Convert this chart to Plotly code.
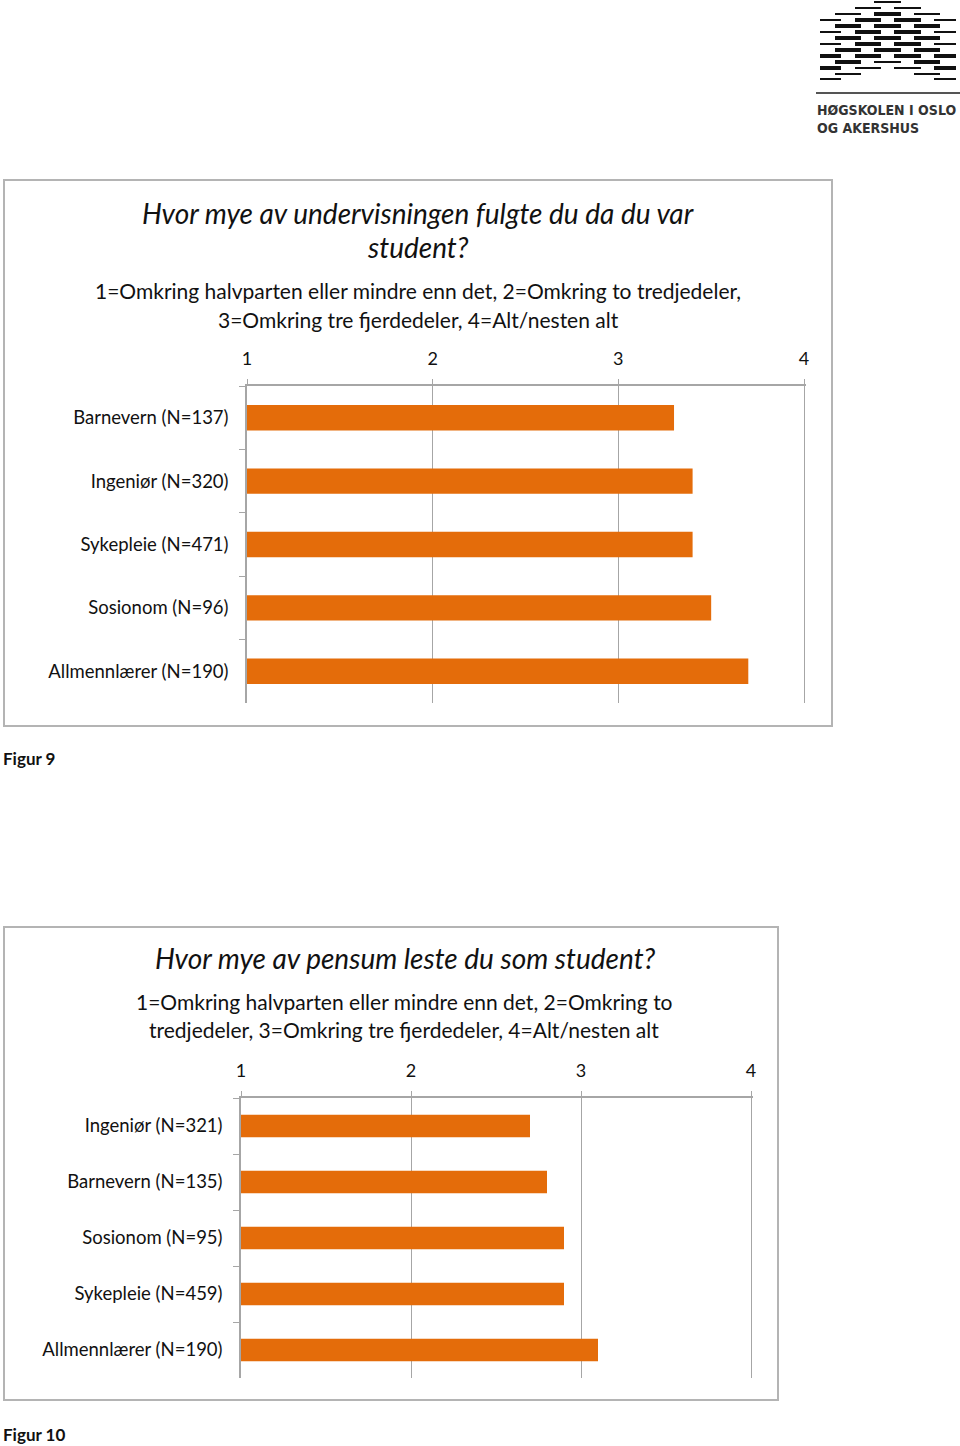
import plotly.graph_objects as go

W, H = 960, 1446

# ---------------- data ----------------
cats1 = ["Barnevern (N=137)", "Ingeniør (N=320)", "Sykepleie (N=471)",
         "Sosionom (N=96)", "Allmennlærer (N=190)"]
vals1 = [3.30, 3.40, 3.40, 3.50, 3.70]

cats2 = ["Ingeniør (N=321)", "Barnevern (N=135)", "Sosionom (N=95)",
         "Sykepleie (N=459)", "Allmennlærer (N=190)"]
vals2 = [2.70, 2.80, 2.90, 2.90, 3.10]

ticks = [1, 2, 3, 4]
tick_labels = ["1", "2", "3", "4"]

title1 = ["Hvor mye av undervisningen fulgte du da du var", "student?"]
sub1 = ["1=Omkring halvparten eller mindre enn det, 2=Omkring to tredjedeler,",
        "3=Omkring tre fjerdedeler, 4=Alt/nesten alt"]
title2 = ["Hvor mye av pensum leste du som student?"]
sub2 = ["1=Omkring halvparten eller mindre enn det, 2=Omkring to",
        "tredjedeler, 3=Omkring tre fjerdedeler, 4=Alt/nesten alt"]

ORANGE = "#E46C0A"
GRID = "#a6a6a6"
FONT = "Lato"
TXT = "#111111"


def px_x(x):
    return x / W


def px_y(y):
    return 1 - y / H


fig = go.Figure()

fig.add_trace(go.Bar(y=cats1, x=[v - 1 for v in vals1], base=1, orientation="h",
                     marker=dict(color=ORANGE, line=dict(width=0)),
                     xaxis="x", yaxis="y", showlegend=False))
fig.add_trace(go.Bar(y=cats2, x=[v - 1 for v in vals2], base=1, orientation="h",
                     marker=dict(color=ORANGE, line=dict(width=0)),
                     xaxis="x2", yaxis="y2", showlegend=False))

EXT = 0.012  # small extension so the gridline at 4 is drawn
xcommon = dict(range=[1, 4 + EXT], tickvals=ticks, ticktext=tick_labels, side="top",
               showgrid=True, gridcolor=GRID, gridwidth=1.2,
               showline=True, linecolor=GRID, linewidth=1.5,
               ticks="outside", ticklen=5, tickcolor=GRID,
               tickfont=dict(family=FONT, size=18, color=TXT),
               ticklabelstandoff=7, zeroline=False, fixedrange=True)
ycommon = dict(autorange="reversed", showline=True, linecolor=GRID, linewidth=1.5,
               ticks="outside", ticklen=6, tickcolor=GRID, tickson="boundaries",
               tickfont=dict(family=FONT, size=18.5, color=TXT),
               ticklabelstandoff=13, showgrid=False, zeroline=False, fixedrange=True)


def dom(a, b):
    # a = pixel of value 1, b = pixel of value 4
    unit = (b - a) / 3
    return [px_x(a), px_x(b + unit * EXT)]


fig.update_layout(
    width=W, height=H, margin=dict(l=0, r=0, t=0, b=0, autoexpand=False),
    paper_bgcolor="white", plot_bgcolor="white",
    bargap=0.6, showlegend=False,
    xaxis=dict(domain=dom(247, 804), anchor="y", **xcommon),
    yaxis=dict(domain=[px_y(703), px_y(386)], anchor="x", **ycommon),
    xaxis2=dict(domain=dom(241, 751), anchor="y2", **xcommon),
    yaxis2=dict(domain=[px_y(1378), px_y(1098)], anchor="x2", **ycommon),
)

shapes = []
# chart frames
for (x0, y0, x1, y1) in [(4, 180, 832, 726), (4, 927, 778, 1400)]:
    shapes.append(dict(type="rect", xref="paper", yref="paper",
                       x0=px_x(x0), x1=px_x(x1), y0=px_y(y1), y1=px_y(y0),
                       line=dict(color="#b4b4b4", width=2), fillcolor="rgba(0,0,0,0)"))

# logo (decorative dash pattern): row y, list of (x0, x1, thick)
A = [(835, 861), (874, 901), (914, 940)]
B = [(820, 841), (855, 881), (894, 921), (934, 956)]
logo_rows = [
    (2, [(A[1], 0)]),
    (8, [(B[1], 0), (B[2], 0)]),
    (14, [(A[0], 0), (A[1], 1), (A[2], 0)]),
    (20, [(B[0], 0), (B[1], 1), (B[2], 1), (B[3], 0)]),
    (26, [(A[0], 1), (A[1], 1), (A[2], 1)]),
    (32, [(B[0], 0), (B[1], 1), (B[2], 1), (B[3], 0)]),
    (38, [(A[0], 1), (A[1], 1), (A[2], 1)]),
    (44, [(B[0], 0), (B[1], 1), (B[2], 1), (B[3], 0)]),
    (50, [(A[0], 1), (A[1], 1), (A[2], 1)]),
    (56, [(B[0], 1), (B[1], 1), (B[2], 1), (B[3], 1)]),
    (62, [(A[0], 1), (A[1], 0), (A[2], 1)]),
    (68, [(B[0], 1), (B[1], 0), (B[2], 0), (B[3], 1)]),
    (74, [(A[0], 0), (A[2], 0)]),
    (79, [(B[0], 0), (B[3], 0)]),
]
for yy, segs in logo_rows:
    for (a, b), thick in segs:
        shapes.append(dict(type="line", xref="paper", yref="paper",
                           x0=px_x(a), x1=px_x(b), y0=px_y(yy), y1=px_y(yy),
                           line=dict(color="#111111", width=4 if thick else 2)))
shapes.append(dict(type="line", xref="paper", yref="paper",
                   x0=px_x(816), x1=px_x(960), y0=px_y(93), y1=px_y(93),
                   line=dict(color="#555555", width=2)))
fig.update_layout(shapes=shapes)

ann = []


def add_text(text, x, y, size, italic=False, bold=False, xanchor="center", family=FONT, color=TXT):
    t = text
    if bold:
        t = "<b>" + t + "</b>"
    if italic:
        t = "<i>" + t + "</i>"
    ann.append(dict(text=t, x=px_x(x), y=px_y(y), xref="paper", yref="paper",
                    xanchor=xanchor, yanchor="middle", showarrow=False,
                    font=dict(family=family, size=size, color=color)))


# chart 1 titles
add_text(title1[0], 418, 213, 28, italic=True)
add_text(title1[1], 418, 247, 28, italic=True)
add_text(sub1[0], 418, 291, 21)
add_text(sub1[1], 418, 319, 21)
# chart 2 titles
add_text(title2[0], 405, 958, 28, italic=True)
add_text(sub2[0], 404, 1001, 21)
add_text(sub2[1], 404, 1029, 21)
# figure captions
add_text("Figur 9", 1, 758, 17, bold=True, xanchor="left")
add_text("Figur 10", 1, 1434, 17, bold=True, xanchor="left")
# logo text
add_text("HØGSKOLEN I OSLO", 815, 110, 14, bold=True, xanchor="left",
         family="DejaVu Sans Condensed", color="#333333")
add_text("OG AKERSHUS", 815, 128, 14, bold=True, xanchor="left",
         family="DejaVu Sans Condensed", color="#333333")

fig.update_layout(annotations=ann)

fig.write_html("out.html")
